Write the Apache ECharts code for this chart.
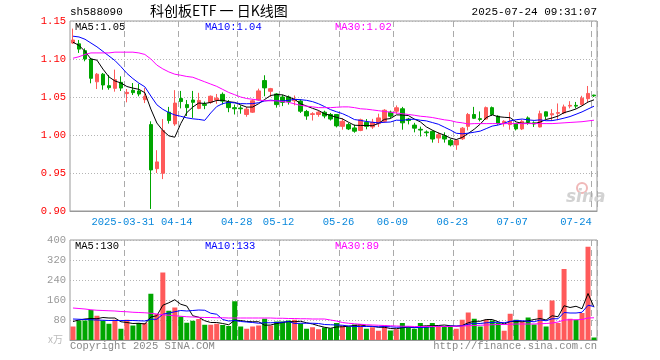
<!DOCTYPE html>
<html><head><meta charset="utf-8">
<script src="https://cdn.jsdelivr.net/npm/echarts@6/dist/echarts.min.js"></script>
<style>html,body{margin:0;padding:0;background:#fff}#c{width:660px;height:360px}</style>
</head><body><div id="c"></div>
<script>
const dates = ['2025-03-18','2025-03-19','2025-03-20','2025-03-21','2025-03-24','2025-03-25','2025-03-26','2025-03-27','2025-03-28','2025-03-31',
'2025-04-01','2025-04-02','2025-04-03','2025-04-07','2025-04-08','2025-04-09','2025-04-10','2025-04-11','2025-04-14','2025-04-15','2025-04-16','2025-04-17','2025-04-18','2025-04-21','2025-04-22','2025-04-23','2025-04-24','2025-04-25','2025-04-28','2025-04-29','2025-04-30',
'2025-05-06','2025-05-07','2025-05-08','2025-05-09','2025-05-12','2025-05-13','2025-05-14','2025-05-15','2025-05-16','2025-05-19','2025-05-20','2025-05-21','2025-05-22','2025-05-23','2025-05-26','2025-05-27','2025-05-28','2025-05-29','2025-05-30',
'2025-06-03','2025-06-04','2025-06-05','2025-06-06','2025-06-09','2025-06-10','2025-06-11','2025-06-12','2025-06-13','2025-06-16','2025-06-17','2025-06-18','2025-06-19','2025-06-20','2025-06-23','2025-06-24','2025-06-25','2025-06-26','2025-06-27','2025-06-30',
'2025-07-01','2025-07-02','2025-07-03','2025-07-04','2025-07-07','2025-07-08','2025-07-09','2025-07-10','2025-07-11','2025-07-14','2025-07-15','2025-07-16','2025-07-17','2025-07-18','2025-07-21','2025-07-22','2025-07-23','2025-07-24'];

const tickDates = ['2025-03-31','2025-04-14','2025-04-28','2025-05-12','2025-05-26','2025-06-09','2025-06-23','2025-07-07','2025-07-24'];

const opens = [1.121,1.120,1.111,1.100,1.070,1.080,1.0649,1.0614,1.0693,1.0544,
1.0588,1.0579,1.0465,1.0137,0.9557,0.9496,1.030,1.0145,1.048,1.040,
1.046,1.035,1.0405,1.043,1.046,1.0535,1.043,1.036,1.0355,1.027,
1.030,1.046,1.0716,1.0575,1.054,1.050,1.050,1.045,1.0446,1.031,
1.027,1.027,1.030,1.027,1.027,1.0114,1.0137,1.0093,1.006,1.0167,
1.0106,1.015,1.018,1.030,1.0313,1.0345,1.021,1.013,1.0075,1.004,
1.0048,0.996,0.999,0.993,0.987,0.995,1.0114,1.027,1.0215,1.021,
1.036,1.0247,1.015,1.0137,1.015,1.008,1.0225,1.016,1.0106,1.0305,
1.0265,1.0285,1.029,1.038,1.039,1.040,1.0478,1.0525];
const closes = [1.125,1.113,1.100,1.0746,1.080,1.0658,1.0623,1.0728,1.0618,1.0561,
1.0557,1.0539,1.0509,0.954,0.9646,1.006,1.019,1.042,1.044,1.036,
1.043,1.0455,1.039,1.051,1.0485,1.0446,1.036,1.0345,1.0345,1.034,
1.045,1.058,1.062,1.061,1.040,1.043,1.044,1.047,1.0313,1.025,
1.028,1.030,1.025,1.021,1.012,1.018,1.008,1.005,1.020,1.0114,
1.0167,1.0225,1.0326,1.0247,1.0358,1.016,1.019,1.009,1.0065,1.003,
0.9947,1.0004,0.9947,0.987,0.993,1.009,1.027,1.022,1.0205,1.036,
1.027,1.015,1.018,1.018,1.008,1.018,1.0167,1.0145,1.028,1.0247,
1.028,1.0295,1.037,1.039,1.038,1.0485,1.0547,1.0515];
const highs = [1.140,1.125,1.114,1.101,1.0816,1.0816,1.079,1.086,1.0772,1.0605,
1.0684,1.0675,1.0618,1.018,0.980,1.021,1.037,1.059,1.058,1.046,
1.058,1.0555,1.044,1.052,1.054,1.056,1.046,1.040,1.039,1.037,
1.047,1.061,1.0786,1.062,1.055,1.053,1.052,1.052,1.047,1.033,
1.030,1.032,1.032,1.029,1.027,1.022,1.016,1.0137,1.0215,1.021,
1.0212,1.028,1.034,1.032,1.0389,1.037,1.0225,1.016,1.011,1.006,
1.006,1.0035,1.0035,0.995,0.994,1.0105,1.029,1.037,1.031,1.0375,
1.0375,1.026,1.0195,1.030,1.016,1.020,1.0245,1.018,1.032,1.031,
1.034,1.0415,1.040,1.0445,1.0435,1.0516,1.0645,1.053];
const lows = [1.120,1.108,1.097,1.068,1.0605,1.0596,1.0596,1.057,1.0579,1.043,
1.0526,1.0509,1.042,0.9027,0.950,0.942,1.015,1.012,1.035,1.025,
1.0225,1.034,1.034,1.041,1.041,1.040,1.030,1.027,1.028,1.024,
1.029,1.045,1.051,1.050,1.036,1.038,1.040,1.039,1.029,1.020,
1.019,1.024,1.022,1.019,1.010,1.007,1.0065,1.003,1.005,1.0075,
1.008,1.0106,1.016,1.022,1.028,1.007,1.014,1.0035,0.998,0.998,
0.990,0.9894,0.990,0.985,0.9805,0.9935,1.006,1.021,1.018,1.020,
1.025,1.0135,1.011,1.007,1.006,1.0065,1.0135,1.0105,1.010,1.021,
1.019,1.0195,1.0275,1.035,1.035,1.039,1.043,1.050];

const ma5 = [1.122,1.118,1.110,1.100,1.0985,1.0867,1.0765,1.0711,1.0685,1.0638,
1.0617,1.0601,1.0557,1.0341,1.0158,1.0059,0.9989,0.9971,1.0151,1.0294,
1.0368,1.0421,1.0415,1.0429,1.0454,1.0457,1.0438,1.0429,1.0396,1.0367,
1.0368,1.0412,1.0467,1.052,1.0532,1.0528,1.050,1.047,1.0411,1.0381,
1.0351,1.0323,1.0279,1.0258,1.0232,1.0212,1.0168,1.0128,1.0126,1.0125,
1.0122,1.0151,1.0206,1.0216,1.0265,1.0263,1.0256,1.0209,1.0173,1.0107,
1.0064,1.0027,0.9999,0.996,0.994,0.9968,1.0021,1.0076,1.0143,1.0229,
1.0265,1.0241,1.0233,1.0228,1.0172,1.0154,1.0157,1.015,1.017,1.0204,
1.0224,1.0249,1.0294,1.0316,1.0343,1.0384,1.0434,1.0463];
const ma10 = [1.130,1.129,1.126,1.121,1.116,1.110,1.104,1.098,1.090,1.0811,
1.0742,1.0683,1.0634,1.0513,1.0398,1.0338,1.0295,1.0264,1.0246,1.0226,
1.0213,1.0205,1.0193,1.029,1.0374,1.0413,1.043,1.0422,1.0413,1.0411,
1.0413,1.0425,1.0448,1.0458,1.045,1.0448,1.0456,1.0469,1.0465,1.0456,
1.0439,1.0411,1.0374,1.0334,1.0306,1.0281,1.0245,1.0203,1.0192,1.0178,
1.0167,1.016,1.0167,1.0171,1.0195,1.0193,1.0204,1.0208,1.0194,1.0186,
1.0164,1.0142,1.0104,1.0066,1.0023,1.0016,1.0024,1.0037,1.0051,1.0084,
1.0117,1.0131,1.0155,1.0186,1.0201,1.021,1.0199,1.0192,1.0199,1.0188,
1.0189,1.0203,1.0222,1.0243,1.0273,1.0304,1.0342,1.0379];
const ma30 = [1.101,1.103,1.106,1.108,1.108,1.108,1.108,1.109,1.109,1.109,
1.109,1.108,1.106,1.100,1.092,1.087,1.083,1.080,1.0786,1.077,
1.076,1.073,1.070,1.067,1.064,1.060,1.056,1.053,1.050,1.048,
1.047,1.046,1.045,1.045,1.045,1.044,1.043,1.041,1.039,1.038,
1.037,1.036,1.036,1.036,1.0365,1.037,1.037,1.036,1.0345,1.034,
1.033,1.032,1.031,1.030,1.029,1.028,1.027,1.026,1.0247,1.024,
1.023,1.0215,1.020,1.019,1.017,1.016,1.0145,1.015,1.015,1.015,
1.015,1.015,1.015,1.015,1.015,1.015,1.015,1.015,1.015,1.015,
1.015,1.0155,1.016,1.0165,1.017,1.0175,1.0185,1.0195];

const volume = [54,78,78,120,97,78,65,81,45,81,
58,68,68,185,104,270,117,130,94,69,
77,84,61,61,65,60,56,155,54,45,
54,58,85,58,74,74,78,81,66,45,
51,43,50,47,68,58,54,62,62,45,
51,37,58,38,43,68,51,45,68,54,
68,54,54,54,45,81,110,85,54,81,
78,68,37,105,81,74,90,62,121,54,
158,68,284,85,81,108,373,10];
const volMa5 = [74,80,84,86,85,90,88,88,73,70,
66,67,64,92,97,139,149,161,143,136,
97,91,77,70,70,66,61,79,78,74,
73,73,59,60,66,70,74,73,75,69,
64,57,51,47,52,53,55,58,61,56,
55,51,51,46,45,49,52,49,55,57,
57,58,60,57,55,58,69,75,75,82,
82,73,64,74,74,73,77,82,86,80,
97,93,137,130,135,125,186,131];
const volMa10 = [84,83,82,81,80,79,78,78,78,78,
78,77,76,83,83,103,108,113,118,116,
118,120,119,107,103,82,76,78,74,72,
70,67,69,69,70,71,74,66,67,67,
67,66,62,61,60,59,56,54,54,54,
54,53,54,53,51,52,52,50,50,51,
53,55,54,56,56,57,63,67,66,69,
70,71,69,74,78,77,75,73,80,77,
85,85,110,108,108,111,139,134];
const volMa30 = [128,126,124,121,119,118,117,116,114,113,
111,110,109,107,104,101,99,97,95,93,
92,91,90,90,89,89,88,88,88,88,
88,88,88,88,87,87,86,86,85,85,
84,84,84,80,76,70,67,65,63,61,
60,59,58,57,56,55,55,54,54,54,
54,54,54,54,55,56,57,58,59,60,
61,62,62,63,64,64,64,64,65,66,
68,72,80,81,81,82,88,89];

const priceTicks = [0.90, 0.95, 1.00, 1.05, 1.10, 1.15];
const volTicks = [0, 80, 160, 240, 320, 400];
const legendMain = ['MA5:1.05', 'MA10:1.04', 'MA30:1.02'];
const legendVol = ['MA5:130', 'MA10:133', 'MA30:89'];
const titleCode = 'sh588090';
const titleName = '科创板ETF 一 日K线图';
const timeStamp = '2025-07-24 09:31:07';

const RED = '#ff5a5a', GREEN = '#00a600';
const MONO = '"Liberation Mono", "DejaVu Sans Mono", monospace';
const maColors = ['#000000', '#0000ff', '#ff00ff'];

const chart = echarts.init(document.getElementById('c'), null, {renderer: 'canvas'});

const isTick = (idx, val) => tickDates.indexOf(dates[idx]) >= 0;
const dashed = {show: true, interval: isTick, lineStyle: {color: '#aaaaaa', type: [6, 4], width: 1}};

function lineSeries(name, data, color, xi, yi) {
  return {name, type: 'line', data, xAxisIndex: xi, yAxisIndex: yi, showSymbol: false, symbol: 'none',
    lineStyle: {color, width: 1}, itemStyle: {color}, z: 5, silent: true};
}

const option = {
  animation: false,
  backgroundColor: '#ffffff',
  grid: [
    {left: 70, right: 63, top: 21, height: 190, show: true, borderColor: '#999', borderWidth: 1, backgroundColor: 'transparent'},
    {left: 70, right: 63, top: 240, height: 100, show: true, borderColor: '#999', borderWidth: 1, backgroundColor: 'transparent'}
  ],
  xAxis: [
    {type: 'category', gridIndex: 0, data: dates, boundaryGap: true,
      axisLine: {show: true, lineStyle: {color: '#999'}}, axisTick: {show: false},
      axisLabel: {show: true, interval: isTick, margin: 6, fontFamily: MONO, fontSize: 10.5, color: '#0a88dc',
        formatter: function (v) {
          if (v === '2025-07-24') return '{b|' + v.slice(5) + '}';
          return '{a|' + (v === '2025-03-31' ? v : v.slice(5)) + '}';
        },
        rich: {a: {fontFamily: MONO, fontSize: 10.5, color: '#0a88dc', padding: [0, 8, 0, 0]},
               b: {fontFamily: MONO, fontSize: 10.5, color: '#0a88dc', padding: [0, 36, 0, 0]}}},
      splitLine: dashed},
    {type: 'category', gridIndex: 1, data: dates, boundaryGap: true,
      axisLine: {show: true, lineStyle: {color: '#999'}}, axisTick: {show: false}, axisLabel: {show: false},
      splitLine: dashed}
  ],
  yAxis: [
    {type: 'value', gridIndex: 0, min: priceTicks[0], max: priceTicks[priceTicks.length - 1], interval: 0.05,
      axisLine: {show: false}, axisTick: {show: false},
      axisLabel: {color: '#ff0000', fontFamily: MONO, fontSize: 10.5, margin: 4, formatter: v => v.toFixed(2)},
      splitLine: {show: true, lineStyle: {color: '#b4b4b4', type: [1, 2], width: 1}}},
    {type: 'value', gridIndex: 1, min: volTicks[0], max: volTicks[volTicks.length - 1], interval: 80,
      axisLine: {show: false}, axisTick: {show: false},
      axisLabel: {color: '#999999', fontFamily: MONO, fontSize: 10.5, margin: 4, formatter: v => v === 0 ? '' : String(v)},
      splitLine: {show: true, lineStyle: {color: '#b4b4b4', type: [1, 2], width: 1}}}
  ],
  series: [
    {type: 'candlestick', xAxisIndex: 0, yAxisIndex: 0, barWidth: 4,
      data: dates.map((d, i) => [opens[i], closes[i], lows[i], highs[i]]),
      itemStyle: {color: RED, color0: GREEN, borderColor: RED, borderColor0: GREEN, borderWidth: 1}, silent: true},
    lineSeries('MA5', ma5, maColors[0], 0, 0),
    lineSeries('MA10', ma10, maColors[1], 0, 0),
    lineSeries('MA30', ma30, maColors[2], 0, 0),
    {type: 'bar', xAxisIndex: 1, yAxisIndex: 1, barWidth: 5, silent: true,
      data: volume.map((v, i) => ({value: v, itemStyle: {color: closes[i] >= opens[i] ? RED : GREEN}}))},
    lineSeries('VMA5', volMa5, maColors[0], 1, 1),
    lineSeries('VMA10', volMa10, maColors[1], 1, 1),
    lineSeries('VMA30', volMa30, maColors[2], 1, 1)
  ],
  graphic: [
    {type: 'text', left: 70, top: 7, style: {text: titleCode, font: '11px ' + MONO, fill: '#000'}},
    {type: 'text', left: 150, top: 4, style: {text: titleName, font: '14px "Noto Sans CJK SC", sans-serif', fill: '#000'}},
    {type: 'text', right: 63, top: 7, style: {text: timeStamp, font: '11px ' + MONO, fill: '#000'}},
    {type: 'text', left: 75, top: 22, style: {text: legendMain[0], font: '10.5px ' + MONO, fill: maColors[0]}},
    {type: 'text', left: 205, top: 22, style: {text: legendMain[1], font: '10.5px ' + MONO, fill: maColors[1]}},
    {type: 'text', left: 335, top: 22, style: {text: legendMain[2], font: '10.5px ' + MONO, fill: maColors[2]}},
    {type: 'text', left: 75, top: 241, style: {text: legendVol[0], font: '10.5px ' + MONO, fill: maColors[0]}},
    {type: 'text', left: 205, top: 241, style: {text: legendVol[1], font: '10.5px ' + MONO, fill: maColors[1]}},
    {type: 'text', left: 335, top: 241, style: {text: legendVol[2], font: '10.5px ' + MONO, fill: maColors[2]}},
    {type: 'text', left: 70, top: 341, style: {text: 'Copyright 2025 SINA.COM', font: '10.5px ' + MONO, fill: '#888'}},
    {type: 'text', right: 63, top: 341, style: {text: 'http://finance.sina.com.cn', font: '10.5px ' + MONO, fill: '#888'}},
    {type: 'text', left: 48, top: 334, style: {text: 'x万', font: '10px "Noto Sans CJK SC", sans-serif', fill: '#bbbbbb'}},
    {type: 'circle', shape: {cx: 582, cy: 188, r: 5}, style: {fill: 'none', stroke: '#f0b8b8', lineWidth: 2}},
    {type: 'text', left: 566, top: 189, style: {text: 'sina', font: 'italic bold 17px "DejaVu Sans", sans-serif', fill: '#d2d2d2'}}
  ]
};
chart.setOption(option);
</script>
</body></html>
